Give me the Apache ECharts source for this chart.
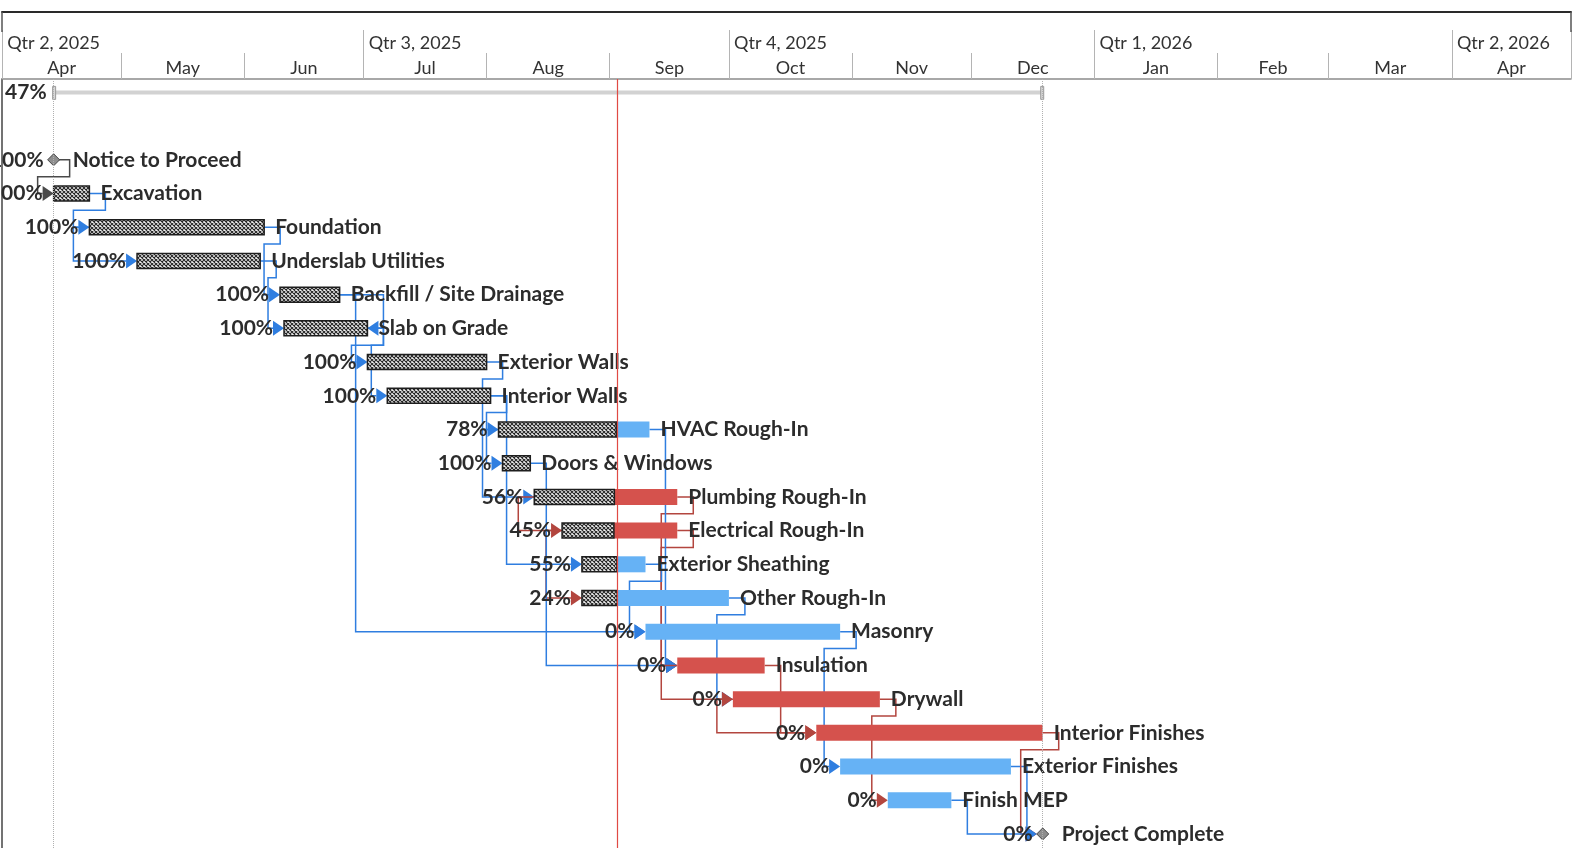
<!DOCTYPE html>
<html>
<head>
<meta charset="utf-8">
<title>Construction Schedule</title>
<script src="https://cdn.jsdelivr.net/npm/echarts@6/dist/echarts.min.js"></script>
<style>
  html, body { margin: 0; padding: 0; background: #fff; }
  #chart { width: 1576px; height: 848px; }
</style>
</head>
<body>
<div id="chart"></div>
<script>
// --- schedule data ---
var taskNames = ['Notice to Proceed', 'Excavation', 'Foundation', 'Underslab Utilities', 'Backfill / Site Drainage',
  'Slab on Grade', 'Exterior Walls', 'Interior Walls', 'HVAC Rough-In', 'Doors & Windows', 'Plumbing Rough-In',
  'Electrical Rough-In', 'Exterior Sheathing', 'Other Rough-In', 'Masonry', 'Insulation', 'Drywall',
  'Interior Finishes', 'Exterior Finishes', 'Finish MEP', 'Project Complete']
var taskStart = ['2025-04-14', '2025-04-14', '2025-04-23', '2025-05-05', '2025-06-10', '2025-06-11', '2025-07-02',
  '2025-07-07', '2025-08-04', '2025-08-05', '2025-08-13', '2025-08-20', '2025-08-25', '2025-08-25', '2025-09-10',
  '2025-09-18', '2025-10-02', '2025-10-23', '2025-10-29', '2025-11-10', '2025-12-19']
var taskFinish = ['2025-04-14', '2025-04-23', '2025-06-06', '2025-06-05', '2025-06-25', '2025-07-02', '2025-08-01',
  '2025-08-02', '2025-09-11', '2025-08-12', '2025-09-18', '2025-09-18', '2025-09-10', '2025-10-01', '2025-10-29',
  '2025-10-10', '2025-11-08', '2025-12-19', '2025-12-11', '2025-11-26', '2025-12-19']
var taskPct = [100, 100, 100, 100, 100, 100, 100, 100, 78, 100, 56, 45, 55, 24, 0, 0, 0, 0, 0, 0, 0]
var taskCritical = [false, false, false, false, false, false, false, false, false, false, true,
  true, false, false, false, true, true, true, false, false, false]

var summaryStart = '2025-04-14'
var summaryFinish = '2025-12-19'
var summaryPct = 47
var statusDate = '2025-09-03'

// [predecessor, successor, type, colour]  b = normal, r = critical, k = milestone
var links = [
  [0, 1, 'FS', 'k'], [1, 2, 'FS', 'b'], [2, 3, 'SS', 'b'], [2, 4, 'FS', 'b'], [3, 5, 'FS', 'b'],
  [4, 5, 'FF', 'b'], [4, 14, 'FS', 'b'], [5, 6, 'FS', 'b'], [5, 7, 'FS', 'b'], [6, 8, 'FS', 'b'],
  [7, 9, 'FS', 'b'], [7, 12, 'FS', 'b'], [8, 10, 'SS', 'b'], [10, 11, 'SS', 'r'], [11, 13, 'SS', 'r'],
  [10, 15, 'FS', 'r'], [11, 15, 'FS', 'r'], [9, 15, 'FS', 'b'], [8, 15, 'FS', 'b'], [12, 14, 'FS', 'b'],
  [13, 16, 'FS', 'b'], [15, 16, 'SS', 'r'], [14, 18, 'FS', 'b'], [15, 17, 'FS', 'r'], [16, 17, 'SS', 'r'],
  [16, 19, 'FS', 'r'], [18, 20, 'FS', 'b'], [17, 20, 'FS', 'r'], [19, 20, 'FS', 'b']
]

// timescale
var monthLabels = ['Apr', 'May', 'Jun', 'Jul', 'Aug', 'Sep', 'Oct', 'Nov', 'Dec', 'Jan', 'Feb', 'Mar', 'Apr']
var monthStarts = ['2025-04-01', '2025-05-01', '2025-06-01', '2025-07-01', '2025-08-01', '2025-09-01', '2025-10-01',
  '2025-11-01', '2025-12-01', '2026-01-01', '2026-02-01', '2026-03-01', '2026-04-01', '2026-05-01']
var quarterLabels = ['Qtr 2, 2025', 'Qtr 3, 2025', 'Qtr 4, 2025', 'Qtr 1, 2026', 'Qtr 2, 2026']
var quarterStarts = ['2025-04-01', '2025-07-01', '2025-10-01', '2026-01-01', '2026-04-01']

// --- helpers ---
var t0 = Date.UTC(2025, 3, 1)
function day (s) {
  var p = s.split('-')
  return (Date.UTC(+p[0], p[1] - 1, +p[2]) - t0) / 86400000
}
var sDay = taskStart.map(day)
var fDay = taskFinish.map(day)
var ROW0 = 2 // first task row (row 0 = summary, row 1 blank)
var axisEnd = day(monthStarts[monthStarts.length - 1])

var monthTicks = monthStarts.map(day)
var monthMids = []
for (var m = 0; m < monthLabels.length; m++) monthMids.push((monthTicks[m] + monthTicks[m + 1]) / 2)
var quarterTicks = quarterStarts.map(day).concat([axisEnd])
var quarterLabelPos = quarterStarts.map(function (q) { return day(q) + 1.3 })

function nearest (list, names, v) {
  for (var i = 0; i < list.length; i++) {
    if (Math.abs(list[i] - v) < 0.05) return names[i]
  }
  return ''
}

var blue = '#66b2f5'
var red = '#d5524d'
var linkColors = { b: '#2f7ee0', r: '#b3463f', k: '#4a4a4a' }
var textColor = '#2c2c2c'
var font = 'Lato'

// crosshatch fill for completed work
var hatch = document.createElement('canvas')
hatch.width = 4
hatch.height = 4
var g = hatch.getContext('2d')
g.fillStyle = '#f0f0f0'
g.fillRect(0, 0, 4, 4)
g.strokeStyle = '#262626'
g.lineWidth = 1.1
g.beginPath()
g.moveTo(0, 0); g.lineTo(4, 4)
g.moveTo(4, 0); g.lineTo(0, 4)
g.stroke()
var hatchFill = { image: hatch, repeat: 'repeat' }

function label (x, y, text, align) {
  return {
    type: 'text',
    style: {
      x: x, y: y, text: text, align: align, verticalAlign: 'middle',
      fill: textColor, fontSize: 21, fontWeight: 'bold', fontFamily: font
    }
  }
}

function renderTask (params, api) {
  var i = api.value(0)
  var row = api.value(1)
  var p0 = api.coord([api.value(2), row])
  var p1 = api.coord([api.value(3), row])
  var y = p0[1]
  var h = 16
  var kids = []
  if (api.value(2) === api.value(3)) {
    var x = p0[0]
    kids.push({
      type: 'polygon',
      shape: { points: [[x, y - 6], [x + 6, y], [x, y + 6], [x - 6, y]] },
      style: { fill: '#8e8e8e', stroke: '#444', lineWidth: 1 }
    })
    kids.push(label(x - 10, y, taskPct[i] + '%', 'right'))
    kids.push(label(x + 19, y, taskNames[i], 'left'))
  } else {
    var pct = api.value(4)
    var xd = p0[0] + (p1[0] - p0[0]) * pct / 100
    if (pct < 100) {
      kids.push({
        type: 'rect',
        shape: { x: xd, y: y - h / 2, width: p1[0] - xd, height: h },
        style: { fill: taskCritical[i] ? red : blue }
      })
    }
    if (pct > 0) {
      kids.push({
        type: 'rect',
        shape: { x: p0[0], y: y - h / 2 + 0.5, width: xd - p0[0], height: h - 1 },
        style: { fill: hatchFill, stroke: '#1e1e1e', lineWidth: 1.5 }
      })
    }
    kids.push(label(p0[0] - 11, y, pct + '%', 'right'))
    kids.push(label(p1[0] + 11, y, taskNames[i], 'left'))
  }
  return { type: 'group', children: kids }
}

function renderSummary (params, api) {
  var p0 = api.coord([api.value(0), api.value(1)])
  var p1 = api.coord([api.value(2), api.value(1)])
  var y = p0[1]
  return {
    type: 'group',
    children: [
      { type: 'rect', shape: { x: p0[0], y: y - 2, width: p1[0] - p0[0], height: 4 },
        style: { fill: '#d2d2d2' } },
      { type: 'rect', shape: { x: p0[0] - 1, y: y - 6, width: 3, height: 13 },
        style: { fill: '#d8d8d8', stroke: '#9a9a9a', lineWidth: 1 } },
      { type: 'rect', shape: { x: p1[0] - 2, y: y - 6, width: 3, height: 13 },
        style: { fill: '#d8d8d8', stroke: '#9a9a9a', lineWidth: 1 } },
      label(p0[0] - 7, y, api.value(3) + '%', 'right')
    ]
  }
}

function renderLink (params, api) {
  var L = links[api.value(2)]
  var a = L[0]
  var b = L[1]
  var ya = api.coord([0, a + ROW0])[1]
  var yb = api.coord([0, b + ROW0])[1]
  var rowH = api.size([0, 1])[1]
  var aS = api.coord([sDay[a], 0])[0]
  var aF = api.coord([fDay[a], 0])[0]
  var bS = api.coord([sDay[b], 0])[0]
  var bF = api.coord([fDay[b], 0])[0]
  if (sDay[b] === fDay[b]) bS -= 6
  var len = 11
  var pts
  var tip
  var dir = 1
  if (L[2] === 'SS') {
    var xv = Math.min(aS, bS) - 16
    pts = [[aS, ya], [xv, ya], [xv, yb], [bS - len, yb]]
    tip = bS
  } else if (L[2] === 'FF') {
    var xf = Math.max(aF, bF) + 16
    pts = [[aF, ya], [xf, ya], [xf, yb], [bF + len, yb]]
    tip = bF
    dir = -1
  } else if (bS - aF >= 25) {
    pts = [[aF, ya], [aF + 16, ya], [aF + 16, yb], [bS - len, yb]]
    tip = bS
  } else {
    var yh = ya + rowH / 2
    var xs = bS - 16
    pts = [[aF, ya], [aF + 16, ya], [aF + 16, yh], [xs, yh], [xs, yb], [bS - len, yb]]
    tip = bS
  }
  var c = linkColors[L[3]]
  return {
    type: 'group',
    children: [
      { type: 'polyline', shape: { points: pts }, style: { stroke: c, lineWidth: 1.5, fill: null } },
      { type: 'polygon',
        shape: { points: [[tip, yb], [tip - dir * len, yb - 7.5], [tip - dir * len, yb + 7.5]] },
        style: { fill: c } }
    ]
  }
}

var taskData = taskNames.map(function (n, i) {
  return [i, i + ROW0, sDay[i], fDay[i], taskPct[i]]
})
var linkData = links.map(function (l, k) {
  return [sDay[l[0]], l[0] + ROW0, k]
})

var headerText = { fontSize: 18, color: '#333', fontFamily: font }

var chart = echarts.init(document.getElementById('chart'))
chart.setOption({
  animation: false,
  grid: { left: 2, right: 5, top: 79, bottom: 0 },
  xAxis: [
    {
      type: 'value', min: 0, max: axisEnd, position: 'top',
      axisLine: { show: true, onZero: false, lineStyle: { color: '#8c8c8c', width: 1.5 } },
      axisTick: { show: true, customValues: monthTicks, length: 26, lineStyle: { color: '#b4b4b4' } },
      axisLabel: Object.assign({
        customValues: monthMids, margin: 2,
        formatter: function (v) { return nearest(monthMids, monthLabels, v) }
      }, headerText),
      splitLine: { show: false }
    },
    {
      type: 'value', min: 0, max: axisEnd, position: 'top',
      axisLine: { show: false, onZero: false },
      axisTick: { show: true, customValues: quarterTicks, length: 49, lineStyle: { color: '#b4b4b4' } },
      axisLabel: Object.assign({
        customValues: quarterLabelPos, margin: 27, align: 'left',
        formatter: function (v) { return nearest(quarterLabelPos, quarterLabels, v) }
      }, headerText),
      splitLine: { show: false }
    },
    {
      type: 'value', min: 0, max: axisEnd, position: 'top', offset: 67,
      axisLine: { show: true, onZero: false, lineStyle: { color: '#2a2a2a', width: 2 } },
      axisTick: { show: true, inside: true, customValues: [0, axisEnd], length: 20, lineStyle: { color: '#555', width: 1.5 } },
      axisLabel: { show: false },
      splitLine: { show: false }
    }
  ],
  yAxis: {
    type: 'value', inverse: true, min: -0.397, max: 22.416,
    axisLine: { show: true, onZero: false, lineStyle: { color: '#444', width: 1.5 } },
    axisTick: { show: false },
    axisLabel: { show: false },
    splitLine: { show: false }
  },
  series: [
    {
      type: 'custom',
      name: 'Summary',
      renderItem: renderSummary,
      encode: { x: [0, 2], y: 1 },
      data: [[day(summaryStart), 0, day(summaryFinish), summaryPct]],
      z: 1,
      markLine: {
        silent: true,
        symbol: 'none',
        label: { show: false },
        data: [
          { xAxis: day(summaryStart), lineStyle: { color: '#b0b0b0', type: 'dotted', width: 1 } },
          { xAxis: day(summaryFinish), lineStyle: { color: '#b0b0b0', type: 'dotted', width: 1 } },
          { xAxis: day(statusDate), lineStyle: { color: '#e04a44', type: 'solid', width: 1.2 } }
        ]
      }
    },
    {
      type: 'custom',
      name: 'Links',
      renderItem: renderLink,
      encode: { x: 0, y: 1 },
      data: linkData,
      z: 2
    },
    {
      type: 'custom',
      name: 'Tasks',
      renderItem: renderTask,
      encode: { x: [2, 3], y: 1 },
      data: taskData,
      z: 3
    }
  ]
})
</script>
</body>
</html>
